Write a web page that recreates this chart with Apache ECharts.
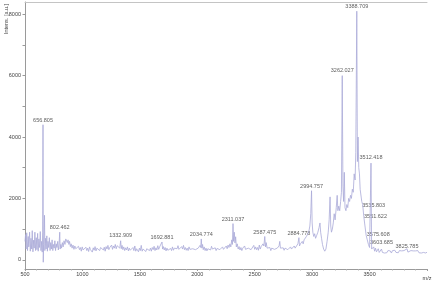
<!DOCTYPE html>
<html>
<head>
<meta charset="utf-8">
<script src="https://cdn.jsdelivr.net/npm/echarts@6/dist/echarts.min.js"></script>
<style>html,body{margin:0;padding:0;background:#fff}#c{width:448px;height:282px}</style>
</head>
<body>
<div id="c"></div>
<script>
// Spectrum trace: [m/z, intensity]
const spectrum = [
[500,600],[505,820],[510,350],[515,880],[522,300],[528,760],[533,420],[540,900],[546,280],[552,700],
[558,350],[563,950],[569,260],[575,640],[580,380],[586,900],[592,300],[598,720],[604,330],[610,860],
[615,280],[621,680],[627,400],[633,920],[639,300],[645,600],[650,250],[654,900],[656.805,4400],[659,-80],
[662,500],[666,800],[670,1450],[673,300],[678,700],[684,350],[690,780],[695,280],[700,600],[706,400],
[712,720],[718,300],[724,560],[730,350],[736,650],[742,300],[748,500],[754,380],[760,620],[766,300],
[772,520],[778,400],[785,600],[790,320],[796,480],[802.462,900],[806,350],[812,500],[818,380],[825,560],
[832,420],[840,620],[848,500],[855,680],[862,720],[868,560],[875,650],[882,500],[888,600],[895,430],
[902,520],[910,380],[918,480],[926,340],[934,450],[942,360],[950,420],[958,300],[966,440],[974,330],
[982,400],[990,280],[998,420],[1006,320],[1014,380],[1022,260],[1030,410],[1038,300],[1046,380],[1054,270],
[1062,420],[1070,330],[1078,360],[1086,250],[1094,390],[1102,310],[1110,430],[1118,290],[1126,380],[1134,330],
[1142,440],[1150,300],[1158,400],[1166,340],[1174,460],[1182,320],[1190,410],[1198,280],[1206,430],[1214,350],
[1222,470],[1230,330],[1238,400],[1246,360],[1254,480],[1262,340],[1270,450],[1278,380],[1286,500],[1294,360],
[1302,460],[1310,400],[1318,520],[1325,380],[1332.909,620],[1338,360],[1345,470],[1352,330],[1360,420],[1368,300],
[1376,390],[1384,320],[1392,420],[1400,290],[1408,380],[1416,310],[1424,360],[1432,270],[1440,400],[1448,300],
[1456,450],[1464,280],[1472,360],[1480,340],[1488,260],[1496,380],[1504,300],[1512,470],[1520,280],[1528,350],
[1536,300],[1544,400],[1552,270],[1560,360],[1568,310],[1576,420],[1584,300],[1592,380],[1600,280],[1608,400],
[1616,330],[1624,440],[1632,300],[1640,390],[1648,320],[1656,460],[1664,340],[1672,420],[1680,360],[1686,480],
[1692.881,580],[1698,350],[1705,430],[1712,320],[1720,400],[1728,290],[1736,380],[1744,310],[1752,360],[1760,280],
[1768,370],[1776,300],[1784,420],[1792,310],[1800,380],[1808,330],[1816,440],[1824,360],[1832,460],[1840,340],
[1848,400],[1856,320],[1864,430],[1872,350],[1880,470],[1888,330],[1896,400],[1904,310],[1912,380],[1920,300],
[1928,420],[1936,340],[1944,390],[1952,300],[1960,360],[1968,310],[1976,420],[1984,330],[1992,390],[2000,300],
[2008,380],[2016,340],[2024,470],[2030,400],[2034.774,680],[2040,380],[2046,500],[2052,330],[2060,420],[2068,300],
[2076,380],[2084,290],[2092,360],[2100,310],[2108,400],[2116,320],[2124,440],[2132,350],[2140,410],[2148,330],
[2156,390],[2164,300],[2172,370],[2180,310],[2188,400],[2196,330],[2204,380],[2212,300],[2220,420],[2228,340],
[2236,390],[2244,320],[2252,450],[2260,360],[2268,480],[2276,400],[2284,520],[2292,420],[2300,650],[2306,500],
[2311.037,1180],[2316,600],[2322,900],[2328,550],[2334,750],[2340,420],[2348,520],[2356,350],[2364,430],[2372,320],
[2380,400],[2388,300],[2396,380],[2404,330],[2412,450],[2420,340],[2428,400],[2436,300],[2444,380],[2452,320],
[2460,420],[2468,330],[2476,390],[2484,310],[2492,470],[2500,340],[2508,420],[2516,330],[2524,400],[2532,310],
[2540,480],[2548,350],[2556,430],[2564,380],[2572,520],[2580,450],[2587.475,760],[2594,420],[2600,560],[2608,380],
[2616,440],[2624,330],[2632,400],[2640,300],[2648,380],[2656,320],[2664,420],[2672,340],[2680,400],[2688,320],
[2696,380],[2704,340],[2712,450],[2718,600],[2724,380],[2732,420],[2740,330],[2748,390],[2756,310],[2764,380],
[2772,320],[2780,400],[2788,330],[2796,380],[2804,340],[2812,420],[2820,350],[2828,400],[2836,360],[2844,450],
[2852,380],[2860,440],[2868,400],[2876,520],[2884.778,720],[2890,450],[2898,520],[2906,480],[2914,600],[2922,520],
[2930,650],[2940,600],[2950,760],[2960,700],[2970,900],[2980,1100],[2988,1500],[2994.757,2250],[3000,1200],[3006,900],
[3014,760],[3022,850],[3030,700],[3040,800],[3050,900],[3060,1050],[3068,1200],[3074,900],[3082,700],[3090,500],
[3100,350],[3110,280],[3120,350],[3130,600],[3140,900],[3148,1300],[3156,2050],[3162,1100],[3168,900],[3176,1000],
[3184,1200],[3192,1500],[3200,1300],[3210,1700],[3218,2100],[3224,1600],[3232,1750],[3240,1600],[3248,1900],[3255,2200],
[3262.027,6000],[3268,2400],[3274,1900],[3280,2850],[3286,1700],[3294,1600],[3302,1800],[3310,1700],[3318,2000],[3326,1900],
[3334,2100],[3342,2000],[3350,2300],[3358,2200],[3366,2800],[3374,2600],[3380,3500],[3388.709,8100],[3394,3200],[3400,4000],
[3406,3000],[3412,2800],[3418,2300],[3426,2250],[3432,1900],[3440,1800],[3450,1400],[3460,1100],[3470,800],[3480,650],
[3490,500],[3500,400],[3506,450],[3512.418,3150],[3518,350],[3526,300],[3535.803,420],[3544,280],[3551.622,380],[3560,260],
[3568,300],[3575.608,360],[3584,240],[3592,300],[3603.685,350],[3612,240],[3620,290],[3630,220],[3640,280],[3650,230],
[3660,300],[3670,240],[3680,290],[3690,220],[3700,300],[3710,250],[3720,310],[3730,240],[3740,280],[3750,230],
[3760,300],[3770,250],[3780,290],[3790,230],[3800,300],[3810,260],[3825.785,360],[3834,250],[3842,290],[3850,230],
[3860,300],[3870,250],[3880,290],[3890,230],[3900,290],[3910,240],[3920,300],[3930,230],[3940,270],[3950,220],
[3960,280],[3970,240],[3980,260],[3990,220],[4000,250]
];

// Labelled peaks and the intensity level where each label sits
const peakMz = [656.805, 802.462, 1332.909, 1692.881, 2034.774, 2311.037, 2587.475, 2884.778, 2994.757,
                3262.027, 3388.709, 3512.418, 3535.803, 3551.622, 3575.608, 3603.685, 3825.785];
const peakLabelLevel = [4440, 945, 670, 605, 695, 1205, 780, 750, 2290,
                        6050, 8130, 3225, 1670, 1290, 715, 445, 335];

const xTickLabels = [500, 1000, 1500, 2000, 2500, 3000, 3500];
const yTickLabels = [0, 2000, 4000, 6000, 8000];
const yTicks = [0, 1000, 2000, 3000, 4000, 5000, 6000, 7000, 8000];

const FONT = 'Liberation Sans';
const chart = echarts.init(document.getElementById('c'), null, {renderer: 'canvas'});

chart.setOption({
  animation: false,
  backgroundColor: '#fff',
  grid: {left: 25, right: 21, top: 2, bottom: 13, containLabel: false},
  xAxis: [{
    type: 'value', min: 500, max: 4000, interval: 500, position: 'bottom',
    axisLine: {onZero: false, lineStyle: {color: '#9a9a9a', width: 1}},
    axisTick: {length: 2, lineStyle: {color: '#9a9a9a'}},
    minorTick: {show: true, splitNumber: 5, length: 1.5, lineStyle: {color: '#b0b0b0'}},
    splitLine: {show: false},
    axisLabel: {
      margin: 2, fontSize: 5.5, fontFamily: FONT, color: '#444',
      formatter: v => xTickLabels.indexOf(v) >= 0 ? String(v) : ''
    }
  }, {
    type: 'value', min: 500, max: 4000, position: 'top',
    axisLine: {show: true, onZero: false, lineStyle: {color: '#c4c4c4', width: 1}},
    axisTick: {show: false}, axisLabel: {show: false}, splitLine: {show: false}
  }],
  yAxis: {
    type: 'value', min: -300, max: 8400,
    axisLine: {show: true, onZero: false, lineStyle: {color: '#9a9a9a', width: 1}},
    axisTick: {show: true, length: 2.5, customValues: yTicks, lineStyle: {color: '#9a9a9a'}},
    splitLine: {show: false},
    axisLabel: {margin: 4, fontSize: 5.5, fontFamily: FONT, color: '#444',
                customValues: yTickLabels, formatter: v => String(v)}
  },
  series: [{
    type: 'line', data: spectrum, xAxisIndex: 0, showSymbol: false, symbol: 'none',
    lineStyle: {color: '#aaaad8', width: 0.8}, silent: true
  }, {
    type: 'scatter', xAxisIndex: 0, symbolSize: 0,
    data: peakMz.map((m, i) => [m, peakLabelLevel[i]]),
    label: {
      show: true, position: 'top', distance: 0.5,
      fontSize: 5.5, fontFamily: FONT, color: '#333',
      formatter: p => p.value[0].toFixed(3)
    }
  }],
  graphic: [{
    type: 'text', x: 6, y: 19, rotation: Math.PI / 2,
    style: {text: 'Intens. [a.u.]', fontSize: 5.5, fontFamily: FONT, fill: '#444',
            align: 'center', verticalAlign: 'middle'}
  }, {
    type: 'text', x: 427, y: 278,
    style: {text: 'm/z', fontSize: 5.5, fontFamily: FONT, fill: '#444',
            align: 'center', verticalAlign: 'middle'}
  }]
});
</script>
</body>
</html>
